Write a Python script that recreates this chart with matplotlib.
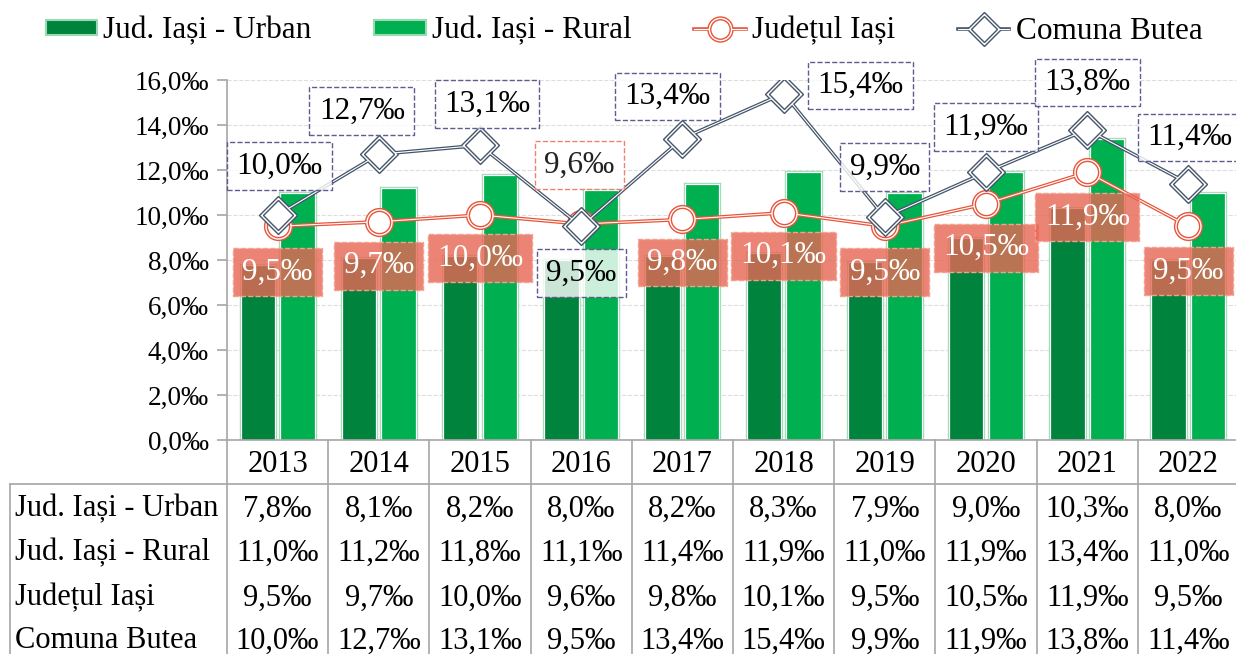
import numpy as np
import matplotlib
matplotlib.use('Agg')
import matplotlib.pyplot as plt
from matplotlib.lines import Line2D
from matplotlib.patches import Patch
from matplotlib.legend_handler import HandlerTuple
from matplotlib.transforms import blended_transform_factory

plt.rcParams['font.family'] = ['Liberation Serif', 'DejaVu Serif']

years = ['2013', '2014', '2015', '2016', '2017', '2018', '2019', '2020', '2021', '2022']
urban = [7.8, 8.1, 8.2, 8.0, 8.2, 8.3, 7.9, 9.0, 10.3, 8.0]
rural = [11.0, 11.2, 11.8, 11.1, 11.4, 11.9, 11.0, 11.9, 13.4, 11.0]
judet = [9.5, 9.7, 10.0, 9.6, 9.8, 10.1, 9.5, 10.5, 11.9, 9.5]
butea = [10.0, 12.7, 13.1, 9.5, 13.4, 15.4, 9.9, 11.9, 13.8, 11.4]
names = ['Jud. Iași - Urban', 'Jud. Iași - Rural', 'Județul Iași', 'Comuna Butea']

# label offsets in pixels (layout only)
butea_off = [(2, 49), (-17, 43), (7, 41), (0, -47), (-15, 42), (77, 8), (0, 50), (0, 45), (0, 47), (1, 46)]
judet_off = [(0, -46), (0, -44), (0, -43), (-2, 59), (0, -43), (0, -43), (0, -46), (0, -44), (0, -45), (0, -45)]

C_URB = '#00843D'
C_RUR = '#00B050'
C_EDGE = '#9BD9B2'
C_JUD = '#E8553A'
C_BUT = '#44546A'
C_TBL = '#A6A6A6'


def fmt(v):
    return ('%.1f' % v).replace('.', ',') + '‰'


W, H = 1236, 654
fig = plt.figure(figsize=(W / 100, H / 100), dpi=100)
ax = fig.add_axes([227 / W, 1 - 440 / H, 1012 / W, 360 / H])

x = np.arange(len(years))
bw = 0.34
for vals, off, col in [(urban, -0.195, C_URB), (rural, 0.195, C_RUR)]:
    ax.bar(x + off, vals, bw, color=col, edgecolor=C_EDGE, linewidth=2.4, zorder=2)
    ax.bar(x + off, vals, bw, color=col, edgecolor='white', linewidth=0.9, zorder=2)

# double lines
ax.plot(x, judet, color=C_JUD, lw=2.6, zorder=4, marker='o', ms=20, mfc='white', mec=C_JUD, mew=1.0)
ax.plot(x, judet, color='white', lw=0.8, zorder=4, marker='o', ms=16, mfc='white', mec=C_JUD, mew=1.0)
ax.plot(x, butea, color=C_BUT, lw=2.6, zorder=5, marker='D', ms=19, mfc='white', mec=C_BUT, mew=1.0)
ax.plot(x, butea, color='white', lw=0.8, zorder=5, marker='D', ms=15, mfc='white', mec=C_BUT, mew=1.0)

for i in range(len(years)):
    ax.annotate(fmt(butea[i]), (x[i], butea[i]), xytext=butea_off[i], textcoords='offset pixels',
                ha='center', va='center', fontsize=22.5, color='black', zorder=7,
                bbox=dict(boxstyle='square,pad=0.3', fc=(1, 1, 1, 0.8), ec='#5F5B8F', ls='--', lw=1.0))
    if judet_off[i][1] > 0:
        bb = dict(boxstyle='square,pad=0.3', fc=(1, 1, 1, 0.8), ec='#F08070', ls='--', lw=1.0)
        tc = '#222222'
    else:
        bb = dict(boxstyle='square,pad=0.3', fc=(0.91, 0.40, 0.33, 0.8), ec='#F4A090', ls='--', lw=1.0)
        tc = 'white'
    ax.annotate(fmt(judet[i]), (x[i], judet[i]), xytext=judet_off[i], textcoords='offset pixels',
                ha='center', va='center', fontsize=22.5, color=tc, zorder=6, bbox=bb)

ax.set_xlim(-0.5, len(years) - 0.5)
ax.set_ylim(0, 16)
ax.set_yticks(np.arange(0, 17, 2))
ax.set_yticklabels([fmt(v) for v in np.arange(0, 17, 2)], fontsize=19.5)
ax.set_xticks([])
ax.yaxis.grid(True, color='#DDDDDD', ls='--', lw=0.8, zorder=0)
ax.set_axisbelow(True)
for s in ['top', 'right']:
    ax.spines[s].set_visible(False)
ax.spines['left'].set_color(C_TBL)
ax.spines['bottom'].set_color(C_TBL)
ax.spines['left'].set_linewidth(1.2)
ax.spines['bottom'].set_linewidth(1.2)
ax.tick_params(axis='y', length=7, color=C_TBL, width=1.2, pad=6)

# data table below
tr = blended_transform_factory(ax.transData, fig.transFigure)
def fy(p):
    return 1 - p / H

for b in np.arange(-0.5, len(years), 1.0):
    fig.add_artist(Line2D([b, b], [fy(440), 0], transform=tr, color=C_TBL, lw=1.2))
fig.add_artist(Line2D([10 / W, 1], [fy(484), fy(484)], color=C_TBL, lw=1.2))
fig.add_artist(Line2D([10 / W, 10 / W], [fy(484), 0], color=C_TBL, lw=1.2))

for i, yr in enumerate(years):
    fig.text(x[i], fy(465), yr, transform=tr, ha='center', va='center', fontsize=22)
rows_y = [509, 553, 598, 641]
for r, (nm, vals) in enumerate(zip(names, [urban, rural, judet, butea])):
    fig.text(15 / W, fy(rows_y[r]), nm, ha='left', va='center', fontsize=22)
    for i in range(len(years)):
        fig.text(x[i], fy(rows_y[r]), fmt(vals[i]), transform=tr, ha='center', va='center', fontsize=22)

# legend
h_urb = Patch(fc=C_URB, ec=C_EDGE, lw=1.5)
h_rur = Patch(fc=C_RUR, ec=C_EDGE, lw=1.5)
h_jud = (Line2D([], [], color=C_JUD, lw=2.6, marker='o', ms=18, mfc='white', mec=C_JUD, mew=1.0),
         Line2D([], [], color='white', lw=0.8, marker='o', ms=14, mfc='white', mec=C_JUD, mew=1.0))
h_but = (Line2D([], [], color=C_BUT, lw=2.6, marker='D', ms=17, mfc='white', mec=C_BUT, mew=1.0),
         Line2D([], [], color='white', lw=0.8, marker='D', ms=13, mfc='white', mec=C_BUT, mew=1.0))
fig.legend([h_urb, h_rur, h_jud, h_but], names, loc='center', bbox_to_anchor=(624 / W, fy(31)),
           ncol=4, frameon=False, fontsize=22.5, handlelength=1.65, handleheight=0.4, handletextpad=0.2,
           columnspacing=2.0, borderpad=0, borderaxespad=0,
           handler_map={tuple: HandlerTuple(ndivide=1)})

fig.savefig('out.png', dpi=100)
